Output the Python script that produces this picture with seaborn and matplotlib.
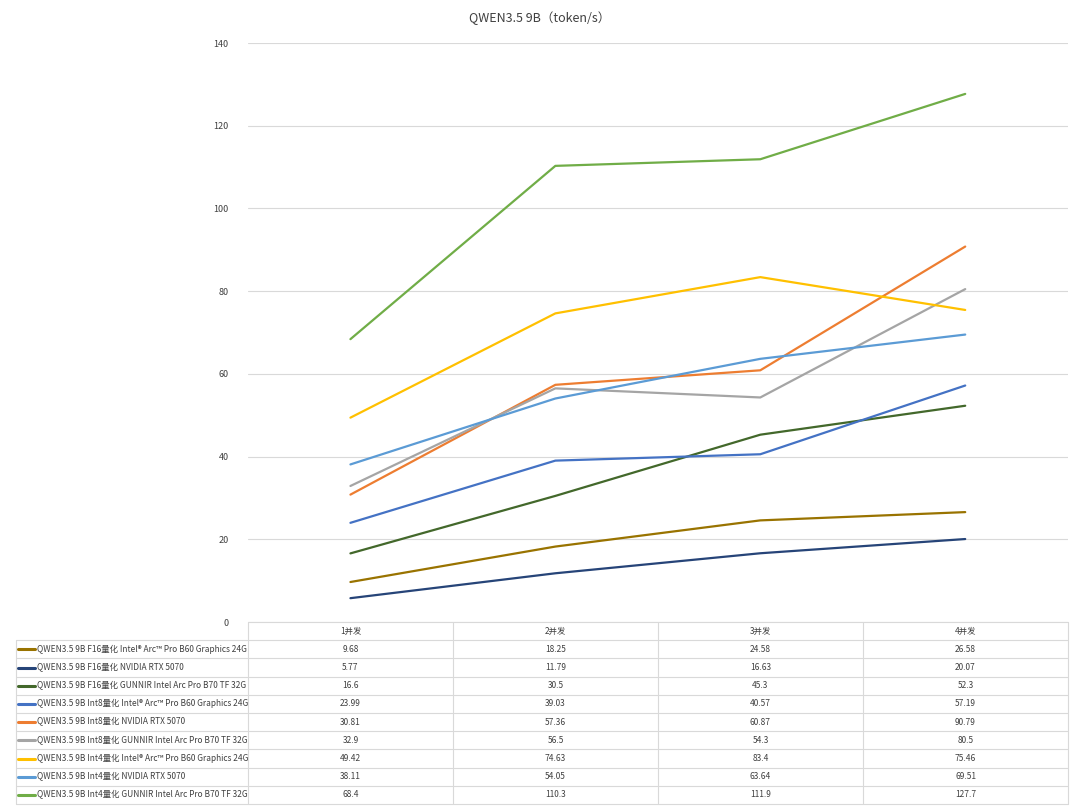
import pandas as pd
import seaborn as sns
import matplotlib.pyplot as plt
from matplotlib.lines import Line2D

categories = ['1并发', '2并发', '3并发', '4并发']
series_names = [
    'QWEN3.5 9B F16量化 Intel® Arc™ Pro B60 Graphics 24G',
    'QWEN3.5 9B F16量化 NVIDIA RTX 5070',
    'QWEN3.5 9B F16量化 GUNNIR Intel Arc Pro B70 TF 32G',
    'QWEN3.5 9B Int8量化 Intel® Arc™ Pro B60 Graphics 24G',
    'QWEN3.5 9B Int8量化 NVIDIA RTX 5070',
    'QWEN3.5 9B Int8量化 GUNNIR Intel Arc Pro B70 TF 32G',
    'QWEN3.5 9B Int4量化 Intel® Arc™ Pro B60 Graphics 24G',
    'QWEN3.5 9B Int4量化 NVIDIA RTX 5070',
    'QWEN3.5 9B Int4量化 GUNNIR Intel Arc Pro B70 TF 32G',
]
f16_b60 = [9.68, 18.25, 24.58, 26.58]
f16_5070 = [5.77, 11.79, 16.63, 20.07]
f16_b70 = [16.6, 30.5, 45.3, 52.3]
int8_b60 = [23.99, 39.03, 40.57, 57.19]
int8_5070 = [30.81, 57.36, 60.87, 90.79]
int8_b70 = [32.9, 56.5, 54.3, 80.5]
int4_b60 = [49.42, 74.63, 83.4, 75.46]
int4_5070 = [38.11, 54.05, 63.64, 69.51]
int4_b70 = [68.4, 110.3, 111.9, 127.7]
values = [f16_b60, f16_5070, f16_b70, int8_b60, int8_5070, int8_b70,
          int4_b60, int4_5070, int4_b70]
colors = ['#997300', '#264478', '#43682B', '#4472C4', '#ED7D31',
          '#A5A5A5', '#FFC000', '#5B9BD5', '#70AD47']

rows = []
for name, vals in zip(series_names, values):
    for i, v in enumerate(vals):
        rows.append({'series': name, 'x': i, 'value': v})
df = pd.DataFrame(rows)

sns.set_style('white')
plt.rcParams['font.family'] = ['Noto Sans CJK SC', 'DejaVu Sans']

fig = plt.figure(figsize=(10.8, 8.09), dpi=100)
ax = fig.add_axes([0.2296, 0.2311, 0.759, 0.7157])
sns.lineplot(data=df, x='x', y='value', hue='series', palette=colors,
             hue_order=series_names, linewidth=1.6, legend=False, ax=ax)
ax.set_xlim(-0.5, 3.5)
ax.set_ylim(0, 140)
ax.set_yticks(range(0, 141, 20))
ax.tick_params(axis='y', labelsize=6.5, colors='#404040', length=0, pad=14)
ax.set_xticks([])
ax.grid(axis='y', color='#D9D9D9', linewidth=0.8)
ax.set_axisbelow(True)
for s in ax.spines.values():
    s.set_visible(False)
ax.set_xlabel('')
ax.set_ylabel('')
fig.text(0.5, 0.977, 'QWEN3.5 9B（token/s）', ha='center', va='center',
         fontsize=9, color='#404040')

# data table below the axes
W, H = 1080, 809
x_label_left, x_left, x_right = 16, 248, 1068
y_head_top, row_h = 622, 18.2
col_w = (x_right - x_left) / len(categories)
line_kw = dict(color='#D9D9D9', linewidth=0.8, transform=fig.transFigure)
n_rows = len(series_names)
y_bottom = y_head_top + row_h * (n_rows + 1)
for r in range(n_rows + 2):
    y = y_head_top + row_h * r
    x0 = x_left if r == 0 else x_label_left
    fig.add_artist(Line2D([x0 / W, x_right / W], [1 - y / H, 1 - y / H], **line_kw))
fig.add_artist(Line2D([x_label_left / W] * 2, [1 - (y_head_top + row_h) / H, 1 - y_bottom / H], **line_kw))
for c in range(len(categories) + 1):
    x = x_left + col_w * c
    fig.add_artist(Line2D([x / W] * 2, [1 - y_head_top / H, 1 - y_bottom / H], **line_kw))
for c, cat in enumerate(categories):
    fig.text((x_left + col_w * (c + 0.5)) / W, 1 - (y_head_top + row_h / 2) / H, cat,
             ha='center', va='center', fontsize=6, color='#404040')
for r, (name, vals, col) in enumerate(zip(series_names, values, colors)):
    yc = 1 - (y_head_top + row_h * (r + 1.5)) / H
    fig.add_artist(Line2D([18 / W, 35 / W], [yc, yc], color=col, linewidth=2.2,
                          transform=fig.transFigure))
    fig.text(37 / W, yc, name, ha='left', va='center', fontsize=6, color='#404040')
    for c, v in enumerate(vals):
        fig.text((x_left + col_w * (c + 0.5)) / W, yc, f'{v:g}',
                 ha='center', va='center', fontsize=6, color='#404040')

fig.savefig('out.png', dpi=100)
